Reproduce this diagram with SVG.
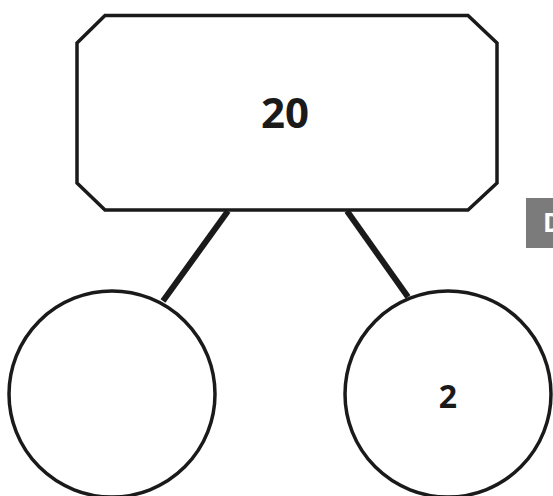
<svg xmlns="http://www.w3.org/2000/svg" width="553" height="496" viewBox="0 0 553 496">
<style>
.shape{fill:#fff;stroke:#1a1a1a;stroke-width:3.5}
.conn{stroke:#1a1a1a;stroke-width:6;stroke-linecap:butt}
.lbl{font-family:"Open Sans","Noto Sans",sans-serif;font-weight:bold;fill:#1a1a1a;text-anchor:middle}
</style>
<rect width="553" height="496" fill="#fff"/>
<g id="connectors">
<line class="conn" x1="228" y1="211" x2="163" y2="301"/>
<line class="conn" x1="347" y1="211" x2="408" y2="297"/>
</g>
<g id="node-top">
<polygon class="shape" points="105,15.5 468,15.5 497,43 497,183 468,210 105,210 77,183 77,43"/>
<text class="lbl" x="285" y="128" font-size="42">20</text>
</g>
<g id="node-left">
<circle class="shape" cx="112" cy="394" r="103"/>
</g>
<g id="node-right">
<circle class="shape" cx="448" cy="394" r="103"/>
<text class="lbl" x="448" y="408" font-size="32">2</text>
</g>
<g id="badge">
<rect x="526" y="198" width="30" height="50" fill="#7b7b7b"/>
<text x="543" y="232" font-family="Open Sans,sans-serif" font-weight="bold" font-size="26" fill="#fff">D</text>
</g>
</svg>
